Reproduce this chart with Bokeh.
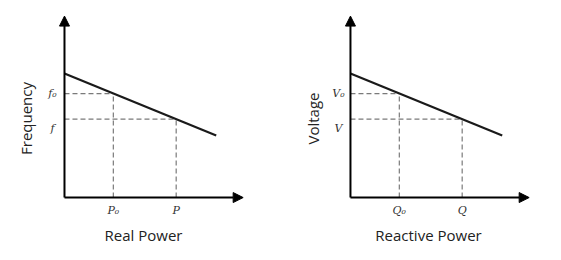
from bokeh.plotting import figure
from bokeh.models import Arrow, NormalHead, Label, FixedTicker
from bokeh.layouts import row
from bokeh.embed import file_html
from bokeh.resources import INLINE

# ---- data (schematic droop characteristic, arbitrary units) ----
droop_x = [0.0, 8.45]          # droop line start / end (power)
droop_y = [6.9, 3.45]          # droop line start / end (frequency / voltage)
op_x = [2.72, 6.22]            # operating points: P0, P  (Q0, Q)
op_y = [5.79, 4.36]            # operating points: f0, f  (V0, V)
axis_end_x = 9.95
axis_end_y = 10.1

x_titles = ["Real Power", "Reactive Power"]
y_titles = ["Frequency", "Voltage"]
x_tick_labels = [["P₀", "P"], ["Q₀", "Q"]]
y_tick_labels = [["f₀", "f"], ["V₀", "V"]]


def style_axis(ax, label, standoff):
    ax.ticker = FixedTicker(ticks=[])
    ax.minor_tick_line_color = None
    ax.major_tick_line_color = None
    ax.major_tick_out = 0
    ax.major_tick_in = 0
    ax.axis_line_color = None
    ax.axis_label = label
    ax.axis_label_text_font = "Open Sans"
    ax.axis_label_text_font_style = "normal"
    ax.axis_label_text_font_size = "15px"
    ax.axis_label_text_color = "#222222"
    ax.axis_label_standoff = standoff


def tick_label(text, x, y, xo, yo):
    return Label(x=x, y=y, x_offset=xo, y_offset=yo, text=text,
                 text_align="center", text_baseline="middle",
                 text_font="DejaVu Serif", text_font_style="italic",
                 text_font_size="11px", text_color="#333333")


def make_panel(i, width, x_start, bl, br, ylab_standoff):
    p = figure(width=width, height=260, output_backend="svg", toolbar_location=None,
               x_range=(x_start, 10.08), y_range=(-1.5, 10.3),
               min_border_left=bl, min_border_right=br,
               min_border_top=12, min_border_bottom=36)
    p.outline_line_color = None
    p.grid.visible = False
    p.background_fill_color = "white"
    p.border_fill_color = "white"

    style_axis(p.xaxis[0], x_titles[i], 0)
    style_axis(p.yaxis[0], y_titles[i], ylab_standoff)

    # dashed guide lines
    for k in range(2):
        p.line([0, op_x[k]], [op_y[k], op_y[k]], line_color="#7a7a7a",
               line_width=1.2, line_dash="5 3")
        p.line([op_x[k], op_x[k]], [0, op_y[k]], line_color="#7a7a7a",
               line_width=1.2, line_dash="5 3")

    # droop line
    p.line(droop_x, droop_y, line_color="#1a1a1a", line_width=2.2)

    # axes with arrow heads
    p.add_layout(Arrow(end=NormalHead(size=10, fill_color="black", line_color="black",
                                      line_width=1),
                       x_start=0, y_start=0, x_end=axis_end_x, y_end=0,
                       line_color="black", line_width=2))
    p.add_layout(Arrow(end=NormalHead(size=10, fill_color="black", line_color="black",
                                      line_width=1),
                       x_start=0, y_start=0, x_end=0, y_end=axis_end_y,
                       line_color="black", line_width=2))

    # tick labels
    y_offsets = [0, -9]
    for k in range(2):
        p.add_layout(tick_label(y_tick_labels[i][k], 0, op_y[k], -12, y_offsets[k]))
        p.add_layout(tick_label(x_tick_labels[i][k], op_x[k], 0, 0, -13))
    return p


p1 = make_panel(0, 280, -1.28, 41, 35, 6)
p2 = make_panel(1, 280, -1.39, 45, 29, 3)
layout = row(p1, p2)

open("out.html", "w").write(file_html(layout, INLINE))
